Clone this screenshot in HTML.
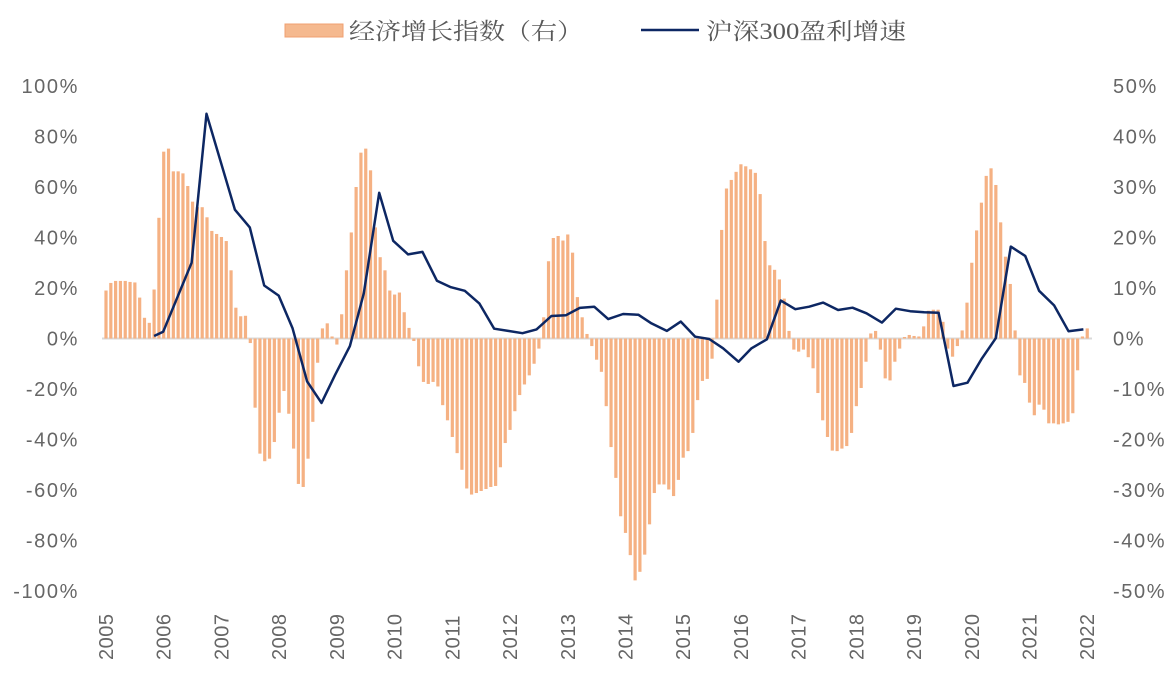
<!DOCTYPE html>
<html><head><meta charset="utf-8"><style>
html,body{margin:0;padding:0;background:#fff;}
svg{display:block;}
</style></head><body>
<svg id="chart" width="1176" height="675" xmlns="http://www.w3.org/2000/svg">
<g id="legend">
<rect x="285" y="24" width="58" height="13" fill="#F5B98F" stroke="#F0A070" stroke-width="1"/>
<text x="349" y="39" font-family="'Liberation Serif','Noto Serif CJK SC',serif" font-size="23" fill="#595959" textLength="234" lengthAdjust="spacingAndGlyphs">经济增长指数（右）</text>
<line x1="641" y1="30" x2="699" y2="30" stroke="#0D2763" stroke-width="2.5"/>
<text x="706" y="39" font-family="'Liberation Serif','Noto Serif CJK SC',serif" font-size="23" fill="#595959" textLength="200" lengthAdjust="spacingAndGlyphs">沪深300盈利增速</text>
</g>
<g id="axes"></g>
<g id="bars"></g>
<g id="lineg"></g>
</svg>
<script>
// Economic growth index (right axis, %), monthly from Jan 2005
const barValues = [9.5,11,11.4,11.4,11.4,11.2,11.1,8.1,4.1,3.1,9.7,23.9,
37,37.6,33.1,33.1,32.7,30.2,27.1,26,26,24,21.3,20.7,20.1,19.3,13.5,6.1,4.4,4.5,-0.9,-13.7,-22.8,-24.3,-23.8,-20.5,-14.7,-10.4,-14.9,-21.8,-28.8,-29.4,-23.8,-16.5,-4.8,2,3,0.4,-1.2,4.8,13.5,21,
30,36.8,37.6,33.3,22,16.1,13.5,9.5,8.7,9.1,5.2,2.1,-0.5,-5.5,-8.6,-9,-8.6,-9.5,-13.2,-16.2,-19.5,-22.7,-26,-29.7,-30.9,-30.6,-30.2,-29.8,-29.4,-29.2,-25.5,-20.7,-18.1,-14.4,-11.2,-9.1,-7.3,-5,
-2,4.2,15.3,19.9,20.3,19.4,20.6,17,8.2,4.2,
0.9,-1.5,-4.2,-6.6,-13.4,-21.5,-27.6,-35.2,-38.5,-42.9,-47.9,-46.2,-42.8,-36.8,-30.6,-28.9,-28.9,-29.9,-31.2,-28,-23.6,-22.3,-18.7,-12.2,-8.4,-8,-4,7.7,21.5,29.7,31.4,33,34.5,34.1,33.5,32.8,28.6,19.3,14.5,13.6,11.7,7.9,1.5,-2.2,-2.6,-2.2,-3.7,-5.9,-10.8,-16.2,-19.5,-22.2,-22.3,-21.8,
-21.3,-18.7,-13.4,-9.8,-4.6,1,1.5,-2.2,-7.9,-8.3,-4.6,-2,0.3,0.7,0.5,0.4,2.4,5.5,5.7,5.7,3.3,-2,-3.6,-1.5,1.6,7.1,15,21.4,26.9,32.2,33.7,30.4,23,16.2,10.8,1.6,-7.3,-8.8,-12.7,-15.2,-13.1,-14.1,-16.8,-16.8,-17,-16.8,-16.5,-14.8,-6.3,0.4,2];
// CSI300 earnings growth (left axis, %), months since Jan 2005
const lineMonths = [10,11.9,17.8,20.9,26.8,29.9,32.9,35.9,38.8,41.8,44.8,47.6,50.7,53.6,56.8,59.7,62.8,65.8,68.8,71.7,74.6,77.6,80.7,83.6,86.6,89.5,92.6,95.6,98.5,101.5,104.4,107.5,110.7,113.4,116.6,119.5,122.5,125.4,128.3,131.5,134.2,137.4,140.3,143.3,146.2,149.1,152.2,155.2,158.1,161.3,164.2,167.2,170.1,173.1,176.2,179.1,182,185,188.1,191.1,194,197.1,200.1,203.2];
const lineValues = [1,2.7,30,89,51,44,21,17,4,-17,-25.5,-14.5,-3,17.9,57.7,38.7,33.3,34.3,22.9,20.3,18.9,13.9,3.9,3,2.1,3.6,8.9,9.2,12.1,12.6,7.7,9.7,9.4,6,3,6.7,0.7,-0.2,-3.9,-9.2,-3.9,-0.3,15,11.6,12.6,14.2,11.3,12.2,10,6.3,11.8,10.8,10.4,10.2,-18.8,-17.5,-8.2,0.1,36.4,32.7,18.9,13.1,2.9,3.6];
const leftTicks = [100,80,60,40,20,0,-20,-40,-60,-80,-100];
const rightTicks = [50,40,30,20,10,0,-10,-20,-30,-40,-50];
const yearLabels = [2005,2006,2007,2008,2009,2010,2011,2012,2013,2014,2015,2016,2017,2018,2019,2020,2021,2022];

const NS = "http://www.w3.org/2000/svg";
const X0 = 106, DX = 4.81;
const xM = m => X0 + DX*m;
const yL = v => 338.5 - v*2.525;
const yR = v => 338.5 - v*5.05;
function mk(tag, attrs, parent){const e=document.createElementNS(NS,tag);for(const k in attrs)e.setAttribute(k,attrs[k]);parent.appendChild(e);return e;}
const axes=document.getElementById('axes');
const font="'Liberation Sans','Noto Sans CJK SC',sans-serif";
leftTicks.forEach(v=>{
  const t=mk('text',{x:79,y:yL(v)+7,'text-anchor':'end','font-family':font,'font-size':20,'letter-spacing':1.6,fill:'#666666'},axes);
  
  
  t.textContent=v+'%';
});
rightTicks.forEach(v=>{
  const t=mk('text',{x:1113,y:yR(v)+7,'text-anchor':'start','font-family':font,'font-size':20,'letter-spacing':1.6,fill:'#666666'},axes);
  
  
  t.textContent=v+'%';
});
yearLabels.forEach((yr,i)=>{
  const x=xM(i*12)+7, y=660;
  const t=mk('text',{x:x,y:y,transform:`rotate(-90 ${x} ${y})`,'font-family':font,'font-size':20,'letter-spacing':0.5,fill:'#666666'},axes);
  
  
  t.textContent=yr;
});
const zl=mk('line',{x1:102,x2:1092,y1:yL(0),y2:yL(0),stroke:'#D9D9D9','stroke-width':2},axes);


const bars=document.getElementById('bars');
barValues.forEach((v,i)=>{
  const y0=yR(0), y1=yR(v);
  const r=mk('rect',{x:xM(i)-1.6,y:Math.min(y0,y1),width:3.2,height:Math.abs(y1-y0),fill:'#F5B183'},bars);
  
  
});
const lg=document.getElementById('lineg');
const pts=lineMonths.map((m,i)=>xM(m).toFixed(1)+','+yL(lineValues[i]).toFixed(1)).join(' ');
const pl=mk('polyline',{points:pts,fill:'none',stroke:'#0D2763','stroke-width':2.5,'stroke-linejoin':'round'},lg);


</script>
</body></html>
